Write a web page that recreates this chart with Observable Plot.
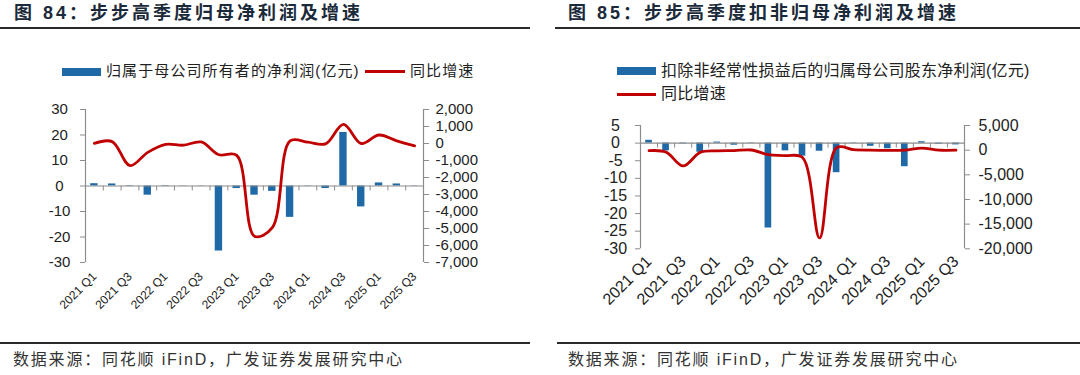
<!DOCTYPE html>
<html>
<head>
<meta charset="utf-8">
<script src="https://cdn.jsdelivr.net/npm/d3@7"></script>
<script src="https://cdn.jsdelivr.net/npm/@observablehq/plot@0.6"></script>
<style>
  body { margin: 0; width: 1080px; height: 375px; background: #fff; overflow: hidden; position: relative;
         font-family: "Liberation Sans", "Noto Sans CJK SC", sans-serif; }
  .panel { position: absolute; top: 0; width: 540px; height: 375px; }
  .title { position: absolute; font-weight: bold; font-size: 18px; letter-spacing: 3px; color: #1b2a3a;
           white-space: nowrap; line-height: 22px; font-family: "Liberation Sans", "Noto Sans CJK SC", sans-serif; }
  .hr { position: absolute; height: 2px; background: #2a2a2a; }
  .leg { position: absolute; color: #222; white-space: nowrap; line-height: 18px; }
  .sw { position: absolute; }
  .layer { position: absolute; left: 0; width: 540px; }
  .foot { position: absolute; font-size: 16px; letter-spacing: 1.8px; color: #333; white-space: nowrap; line-height: 20px; }
</style>
</head>
<body>
<script>
// ---------- data ----------
const quarters = ["2021 Q1","2021 Q2","2021 Q3","2021 Q4","2022 Q1","2022 Q2","2022 Q3","2022 Q4",
                  "2023 Q1","2023 Q2","2023 Q3","2023 Q4","2024 Q1","2024 Q2","2024 Q3","2024 Q4",
                  "2025 Q1","2025 Q2","2025 Q3"];
const tickQuarters = ["2021 Q1","2021 Q3","2022 Q1","2022 Q3","2023 Q1","2023 Q3","2024 Q1","2024 Q3","2025 Q1","2025 Q3"];

// Fig 84
const netProfit    = [0.9, 0.8, -0.2, -3.6, 0.2, 0.1, -0.1, -25.5, -1.0, -3.6, -2.1, -12.3, -0.1, -1.0, 21.0, -8.2, 1.2, 0.8, 0.1];
const netProfitYoY = [10, 110, -1300, -520, -50, -100, 90, -660, -700, -5450, -4950, 150, 80, -20, 1120, 0, 500, 150, -140];
const leftTicks84  = [-30, -20, -10, 0, 10, 20, 30];
const rightTicks84 = [-7000, -6000, -5000, -4000, -3000, -2000, -1000, 0, 1000, 2000];

// Fig 85
const deductedProfit = [0.8, -2.2, -0.2, -2.6, 0.3, -0.6, -0.1, -24.1, -2.2, -3.7, -2.3, -8.4, -0.1, -0.9, -1.6, -6.7, 0.4, -0.3, -0.5];
const deductedYoY    = [-100, -400, -3200, -450, -150, -80, 30, -900, -1100, -1500, -17800, 500, 100, 0, -50, 0, 400, 0, 0];
const leftTicks85  = [-30, -25, -20, -15, -10, -5, 0, 5];
const rightTicks85 = [-20000, -15000, -10000, -5000, 0, 5000];

const titles  = ["图 84：步步高季度归母净利润及增速", "图 85：步步高季度扣非归母净利润及增速"];
const series84 = ["归属于母公司所有者的净利润(亿元)", "同比增速"];
const series85 = ["扣除非经常性损益后的归属母公司股东净利润(亿元)", "同比增速"];
const source = "数据来源：同花顺 iFinD，广发证券发展研究中心";

// ---------- style ----------
const BLUE = "#1f6aa6", RED = "#c00000", GRAY = "#8c8c8c", INK = "#222";
const FONT = '"Liberation Sans", Arial, "Noto Sans CJK SC", sans-serif';
const fmtComma = d => d3.format(",")(d).replace("\u2212", "-");
const tickIdx = tickQuarters.map(q => quarters.indexOf(q));
const bounds = d3.range(quarters.length + 1).map(k => k - 0.5);

function el(tag, cls, parent, css, text) {
  const e = document.createElement(tag);
  if (cls) e.className = cls;
  Object.assign(e.style, css || {});
  if (text != null) e.textContent = text;
  parent.appendChild(e);
  return e;
}

function drawChart(panel, c) {
  const common = {
    width: 540, height: c.height,
    marginLeft: c.ml, marginRight: c.mr, marginTop: c.mt, marginBottom: c.mb,
    x: {domain: [-0.5, quarters.length - 0.5], axis: null}
  };
  const st = {background: "transparent", overflow: "visible", fontFamily: FONT, fontSize: c.yFont + "px", color: INK};
  const A = Plot.plot({
    ...common, style: st,
    y: {domain: c.yDomL, axis: null},
    marks: [
      Plot.rect(c.bars, {x1: (d, i) => i - 0.5, x2: (d, i) => i + 0.5, y1: 0, y2: d => d,
                         fill: BLUE, insetLeft: c.inset, insetRight: c.inset}),
      Plot.ruleY([0], {stroke: GRAY, strokeWidth: 1.2}),
      Plot.ruleX(bounds, {x: d => d, y1: 0, y2: 0, insetBottom: -5, stroke: GRAY}),
      Plot.ruleX([-0.5], {y1: c.yDomL[0], y2: c.yDomL[1], stroke: GRAY, strokeWidth: 1.2}),
      Plot.axisY({anchor: "left", ticks: c.yTicksL, tickSize: 5, tickPadding: c.lPad, textAnchor: "middle",
                  stroke: GRAY, fill: INK, tickFormat: d => String(d)}),
      Plot.axisX({anchor: "bottom", ticks: tickIdx, tickFormat: i => quarters[i], tickRotate: -45,
                  tickSize: 0, tickPadding: c.xPad, fontSize: c.xFont, fill: INK})
    ]
  });
  const B = Plot.plot({
    ...common, style: st,
    y: {domain: c.yDomR, axis: null},
    marks: [
      Plot.ruleX([quarters.length - 0.5], {y1: c.yDomR[0], y2: c.yDomR[1], stroke: GRAY, strokeWidth: 1.2}),
      Plot.axisY({anchor: "right", ticks: c.yTicksR, tickSize: 5, tickPadding: c.rPad,
                  stroke: GRAY, fill: INK, tickFormat: fmtComma}),
      Plot.line(c.line, {x: (d, i) => i, y: d => d, curve: "catmull-rom", stroke: RED, strokeWidth: 2.8})
    ]
  });
  const la = el("div", "layer", panel, {top: c.top + "px"}); la.appendChild(A);
  const lb = el("div", "layer", panel, {top: c.top + "px"}); lb.appendChild(B);
}

// ---------- left panel (图 84) ----------
const p1 = el("div", "panel", document.body, {left: "0px"});
el("div", "title", p1, {left: "14px", top: "2px"}, titles[0]);
el("div", "hr", p1, {left: "0px", top: "27px", width: "530px"});
el("div", "sw", p1, {left: "62px", top: "68px", width: "39px", height: "8px", background: BLUE});
el("div", "leg", p1, {left: "106px", top: "62px", fontSize: "15px", letterSpacing: "1.1px"}, series84[0]);
el("div", "sw", p1, {left: "365px", top: "70px", width: "40px", height: "3px", background: RED});
el("div", "leg", p1, {left: "410px", top: "62px", fontSize: "15px", letterSpacing: "1.1px"}, series84[1]);
drawChart(p1, {
  bars: netProfit, line: netProfitYoY,
  yDomL: [-30, 30], yTicksL: leftTicks84, yDomR: [-7000, 2000], yTicksR: rightTicks84,
  top: 90, height: 245, ml: 85, mr: 117, mt: 19, mb: 73,
  inset: 5.2, yFont: 15, xFont: 12, xPad: 12, lPad: 21, rPad: 7
});
el("div", "hr", p1, {left: "0px", top: "342px", width: "530px"});
el("div", "foot", p1, {left: "13px", top: "350px"}, source);

// ---------- right panel (图 85) ----------
const p2 = el("div", "panel", document.body, {left: "540px"});
el("div", "title", p2, {left: "28px", top: "2px"}, titles[1]);
el("div", "hr", p2, {left: "15px", top: "27px", width: "525px"});
el("div", "sw", p2, {left: "77px", top: "67px", width: "39px", height: "8px", background: BLUE});
el("div", "leg", p2, {left: "121px", top: "62px", fontSize: "16px", letterSpacing: "0.25px"}, series85[0]);
el("div", "sw", p2, {left: "77px", top: "93px", width: "39px", height: "3px", background: RED});
el("div", "leg", p2, {left: "121px", top: "85px", fontSize: "16px", letterSpacing: "0.25px"}, series85[1]);
drawChart(p2, {
  bars: deductedProfit, line: deductedYoY,
  yDomL: [-30, 5], yTicksL: leftTicks85, yDomR: [-20000, 5000], yTicksR: rightTicks85,
  top: 105, height: 230, ml: 100, mr: 116, mt: 20, mb: 86.7,
  inset: 5.2, yFont: 16, xFont: 16, xPad: 10, lPad: 20, rPad: 9
});
el("div", "hr", p2, {left: "17px", top: "342px", width: "523px"});
el("div", "foot", p2, {left: "28px", top: "350px"}, source);
</script>
</body>
</html>
